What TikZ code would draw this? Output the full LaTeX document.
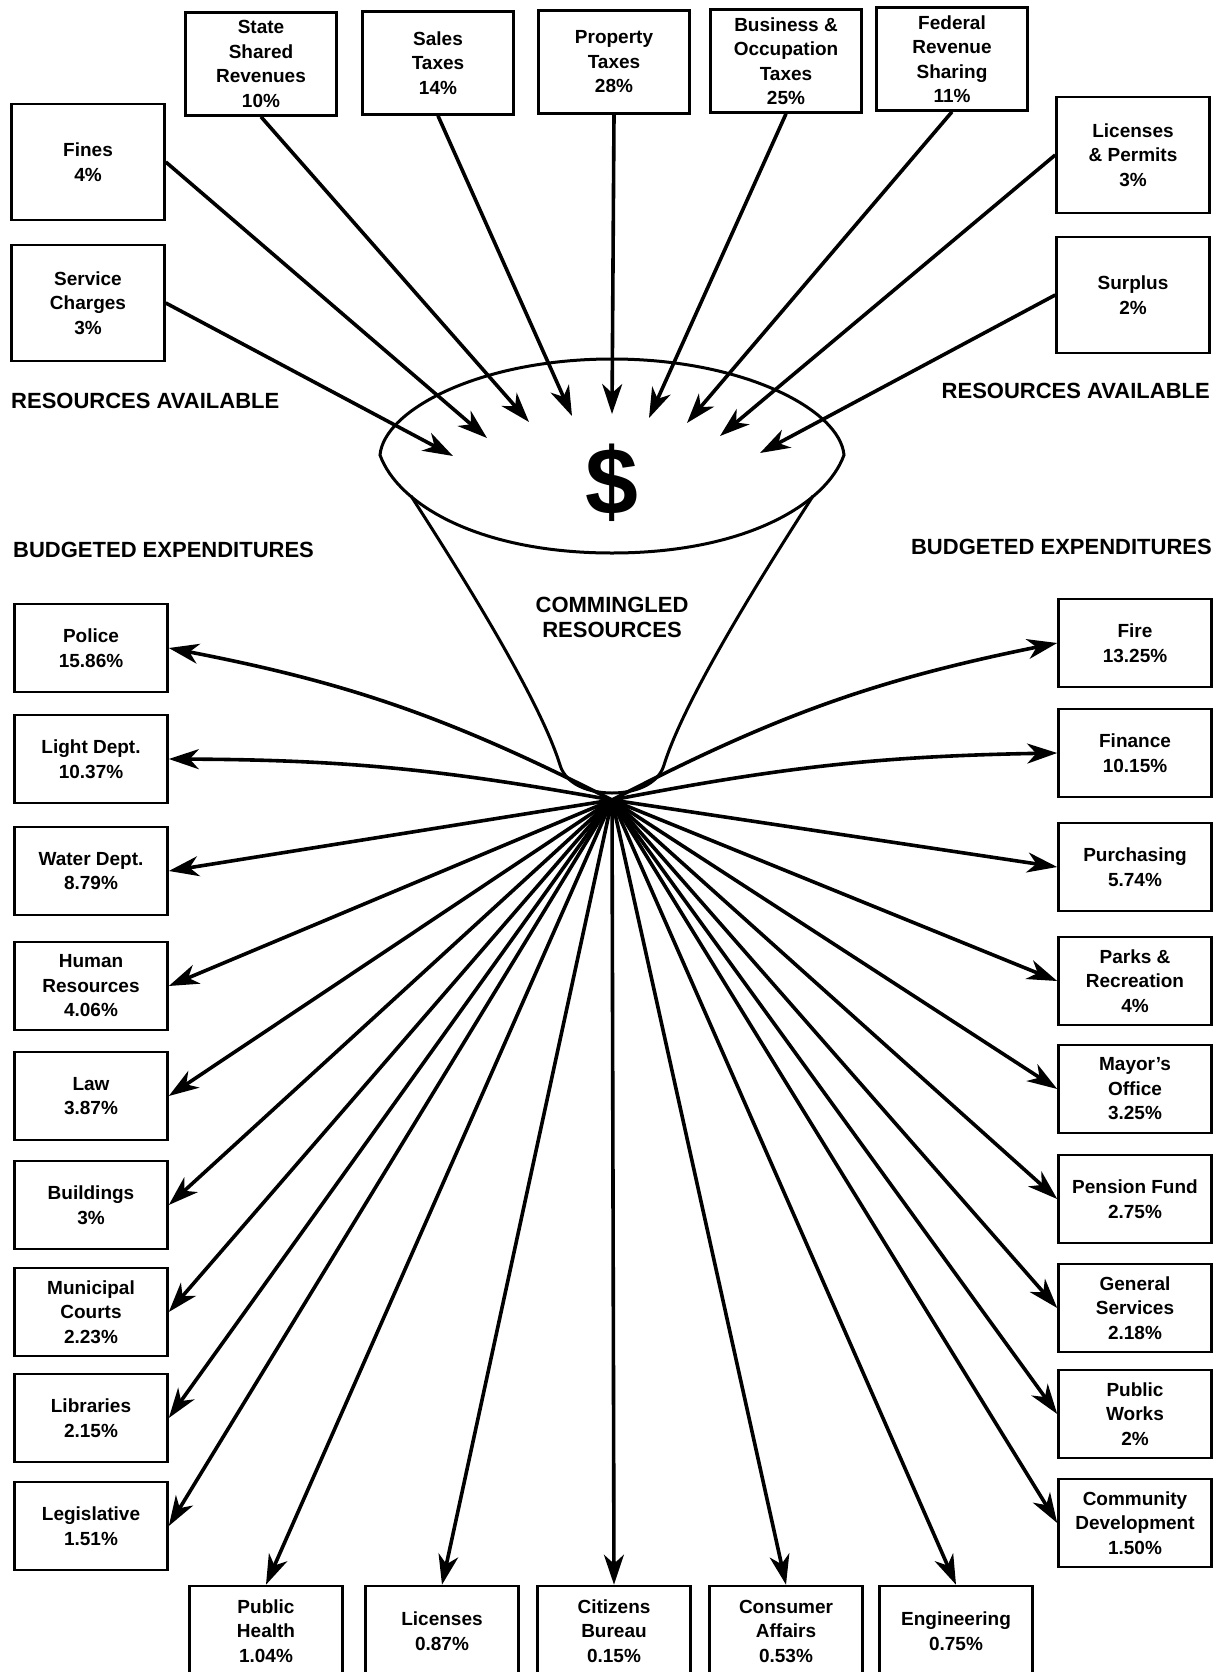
\documentclass[tikz,border=0pt]{standalone}
\usepackage{fontspec}
\setmainfont{Liberation Sans}
\usetikzlibrary{arrows.meta}

\begin{document}
\begin{tikzpicture}[x=1pt, y=-1pt,
    box/.style={draw, line width=2.6pt, align=center, inner sep=0pt,
      minimum width=153pt, minimum height=88pt,
      font=\bfseries\fontsize{19}{24.5}\selectfont},
    inbox/.style={box, minimum height=116pt},
    topbox/.style={box, minimum width=151pt, minimum height=103pt},
    flow/.style={line width=3.6pt, -{Stealth[length=30pt, width=20pt, inset=9pt]}},
    heading/.style={inner sep=0pt, font=\bfseries\fontsize{22}{25}\selectfont}]
  \useasboundingbox (0,0) rectangle (1227,1672);

  % Draw the funnel: lens on top, then the sides down to the neck
  \draw [line width=3pt] (380,455) .. controls (384,410) and (480,359) .. (612,359)
    .. controls (744,359) and (840,410) .. (844,455)
    .. controls (826,505) and (744,553) .. (612,553)
    .. controls (480,553) and (398,505) .. cycle;
  \draw [line width=3pt] (411,496) .. controls (462,575) and (540,700) .. (560,765)
    .. controls (566,785) and (590,793) .. (612,793)
    .. controls (634,793) and (658,785) .. (664,765)
    .. controls (684,700) and (762,575) .. (813,496);
  \node [font=\bfseries\fontsize{95}{95}\selectfont] (dollar) at (612,483) {\$};
  \node [heading, align=center] (pool) at (612,617) {COMMINGLED\\RESOURCES};

  % Resources available
  \node [topbox] (state) at (261,64) {State\\Shared\\Revenues\\10\%};
  \node [topbox] (sales) at (438,63) {Sales\\Taxes\\14\%};
  \node [topbox] (property) at (614,62) {Property\\Taxes\\28\%};
  \node [topbox] (business) at (786,61) {Business \&\\Occupation\\Taxes\\25\%};
  \node [topbox] (federal) at (952,59) {Federal\\Revenue\\Sharing\\11\%};
  \node [inbox] (fines) at (88,162) {Fines\\4\%};
  \node [inbox] (service) at (88,303) {Service\\Charges\\3\%};
  \node [inbox] (permits) at (1133,155) {Licenses\\\& Permits\\3\%};
  \node [inbox] (surplus) at (1133,295) {Surplus\\2\%};
  \node [heading, anchor=west] (resleft) at (11,401) {RESOURCES AVAILABLE};
  \node [heading, anchor=east] (resright) at (1210,391) {RESOURCES AVAILABLE};

  % Points where the resources drop into the funnel
  \coordinate (in1) at (453,456);
  \coordinate (in2) at (487,438);
  \coordinate (in3) at (529,422);
  \coordinate (in4) at (572,416);
  \coordinate (in5) at (612,414);
  \coordinate (in6) at (649,418);
  \coordinate (in7) at (687,423);
  \coordinate (in8) at (720,436);
  \coordinate (in9) at (760,453);
  \draw [flow] (service.east) -- (in1);
  \draw [flow] (fines.east) -- (in2);
  \draw [flow] (state.south) -- (in3);
  \draw [flow] (sales.south) -- (in4);
  \draw [flow] (property.south) -- (in5);
  \draw [flow] (business.south) -- (in6);
  \draw [flow] (federal.south) -- (in7);
  \draw [flow] (permits.west) -- (in8);
  \draw [flow] (surplus.west) -- (in9);

  % Budgeted expenditures
  \node [heading, anchor=west] (expleft) at (13,550) {BUDGETED EXPENDITURES};
  \node [heading, anchor=east] (expright) at (1212,547) {BUDGETED EXPENDITURES};
  \node [box] (police) at (91,648) {Police\\15.86\%};
  \node [box] (light) at (91,759) {Light Dept.\\10.37\%};
  \node [box] (water) at (91,871) {Water Dept.\\8.79\%};
  \node [box] (human) at (91,986) {Human\\Resources\\4.06\%};
  \node [box] (law) at (91,1096) {Law\\3.87\%};
  \node [box] (buildings) at (91,1205) {Buildings\\3\%};
  \node [box] (courts) at (91,1312) {Municipal\\Courts\\2.23\%};
  \node [box] (libraries) at (91,1418) {Libraries\\2.15\%};
  \node [box] (legislative) at (91,1526) {Legislative\\1.51\%};
  \node [box] (fire) at (1135,643) {Fire\\13.25\%};
  \node [box] (finance) at (1135,753) {Finance\\10.15\%};
  \node [box] (purchasing) at (1135,867) {Purchasing\\5.74\%};
  \node [box] (parks) at (1135,981) {Parks \&\\Recreation\\4\%};
  \node [box] (mayor) at (1135,1089) {Mayor's\\Office\\3.25\%};
  \node [box] (pension) at (1135,1199) {Pension Fund\\2.75\%};
  \node [box] (general) at (1135,1308) {General\\Services\\2.18\%};
  \node [box] (works) at (1135,1414) {Public\\Works\\2\%};
  \node [box] (community) at (1135,1523) {Community\\Development\\1.50\%};
  \node [box, minimum height=90pt] (health) at (266,1631) {Public\\Health\\1.04\%};
  \node [box, minimum height=90pt] (licenses) at (442,1631) {Licenses\\0.87\%};
  \node [box, minimum height=90pt] (citizens) at (614,1631) {Citizens\\Bureau\\0.15\%};
  \node [box, minimum height=90pt] (consumer) at (786,1631) {Consumer\\Affairs\\0.53\%};
  \node [box, minimum height=90pt] (engineering) at (956,1631) {Engineering\\0.75\%};

  % Spread out from the neck of the funnel
  \coordinate (hub) at (612,800);
  \draw [flow] (hub) to [bend right=8] (police.east);
  \draw [flow] (hub) to [bend right=5] (light.east);
  \draw [flow] (hub) -- (water.east);
  \draw [flow] (hub) -- (human.east);
  \draw [flow] (hub) -- (law.east);
  \draw [flow] (hub) -- (buildings.east);
  \draw [flow] (hub) -- (courts.east);
  \draw [flow] (hub) -- (libraries.east);
  \draw [flow] (hub) -- (legislative.east);
  \draw [flow] (hub) -- (health.north);
  \draw [flow] (hub) -- (licenses.north);
  \draw [flow] (hub) -- (citizens.north);
  \draw [flow] (hub) -- (consumer.north);
  \draw [flow] (hub) -- (engineering.north);
  \draw [flow] (hub) to [bend left=8] (fire.west);
  \draw [flow] (hub) to [bend left=5] (finance.west);
  \draw [flow] (hub) -- (purchasing.west);
  \draw [flow] (hub) -- (parks.west);
  \draw [flow] (hub) -- (mayor.west);
  \draw [flow] (hub) -- (pension.west);
  \draw [flow] (hub) -- (general.west);
  \draw [flow] (hub) -- (works.west);
  \draw [flow] (hub) -- (community.west);
\end{tikzpicture}
\end{document}
